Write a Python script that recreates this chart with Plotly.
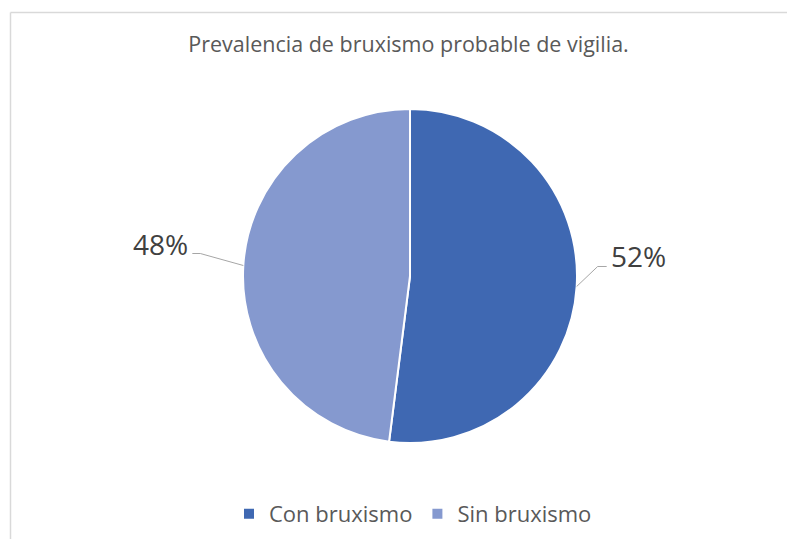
import math
import plotly.graph_objects as go

categories = ["Con bruxismo", "Sin bruxismo"]
values = [52, 48]
colors = ["#3f68b2", "#8599cf"]
title_text = "Prevalencia de bruxismo probable de vigilia."

W, H = 795, 539
OFF = 8  # page body margin of the html page
FW, FH = W - OFF, H - OFF
FONT = "'Open Sans', sans-serif"
# pie geometry (pixels in the screenshot)
CX, CY, R = 410, 276, 167

def px(x):
    return (x - OFF) / FW

def py(y):
    return 1 - (y - OFF) / FH

fig = go.Figure()
fig.add_trace(go.Pie(
    labels=categories,
    values=values,
    sort=False,
    direction="clockwise",
    rotation=0,
    marker=dict(colors=colors, line=dict(color="white", width=2)),
    textinfo="none",
    hoverinfo="label+percent",
    domain=dict(x=[px(CX - R), px(CX + R)], y=[py(CY + R), py(CY - R)]),
))

# label leader lines computed from slice mid-angles
total = sum(values)
cum = 0
shapes = []
annotations = []
# styling: outward elbow offsets (dx, dy), horizontal tail length
leader_style = [(21, -20, 9), (-43, -12, 8)]
for v, (dx, dy, tail) in zip(values, leader_style):
    mid = (cum + v / 2) / total * 2 * math.pi
    cum += v
    sx = CX + R * math.sin(mid)
    sy = CY - R * math.cos(mid)
    ex, ey = sx + dx, sy + dy
    side = 1 if dx > 0 else -1
    tx = ex + side * tail
    shapes.append(dict(
        type="path", xref="paper", yref="paper",
        path=f"M {px(sx)} {py(sy)} L {px(ex)} {py(ey)} L {px(tx)} {py(ey)}",
        line=dict(color="#a6a6a6", width=1),
    ))
    pct = round(v / total * 100)
    annotations.append(dict(
        x=px(tx + side * 2), y=py(ey - 10), xref="paper", yref="paper",
        text=f"{pct}%", showarrow=False,
        xanchor="left" if side > 0 else "right", yanchor="middle",
        font=dict(size=28, color="#404040", family=FONT),
    ))

# chart border (cropped frame)
shapes.append(dict(type="line", xref="paper", yref="paper",
                   x0=px(10.5), y0=py(12.5), x1=px(W + 5), y1=py(12.5),
                   line=dict(color="#d9d9d9", width=1.5)))
shapes.append(dict(type="line", xref="paper", yref="paper",
                   x0=px(10.5), y0=py(12.5), x1=px(10.5), y1=py(H + 5),
                   line=dict(color="#d9d9d9", width=1.5)))

fig.update_layout(
    width=FW, height=FH,
    margin=dict(l=0, r=0, t=0, b=0),
    paper_bgcolor="white",
    plot_bgcolor="white",
    title=dict(text=title_text, x=px(408.5), xanchor="center", y=py(44), yanchor="middle",
               font=dict(size=21.5, color="#595959", family=FONT)),
    showlegend=True,
    legend=dict(orientation="h", x=px(413), xanchor="center", y=py(514), yanchor="middle",
                font=dict(size=22, color="#595959", family=FONT),
                itemwidth=30, traceorder="normal"),
    shapes=shapes,
    annotations=annotations,
)

fig.write_html("out.html")
